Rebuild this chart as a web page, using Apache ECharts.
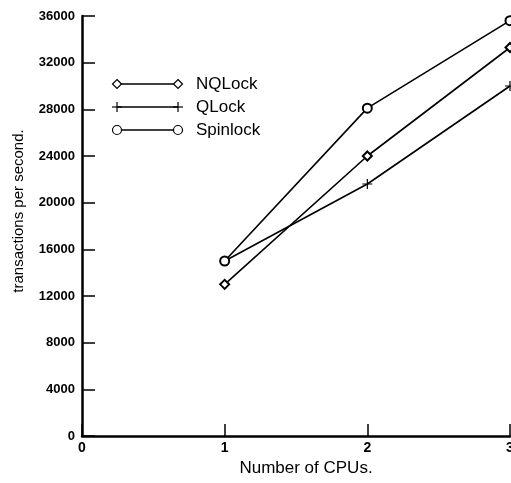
<!DOCTYPE html>
<html>
<head>
<meta charset="utf-8">
<script src="https://cdn.jsdelivr.net/npm/echarts@6/dist/echarts.min.js"></script>
<style>
  html, body { margin: 0; padding: 0; background: #fff; }
  #chart { width: 511px; height: 483px; }
</style>
</head>
<body>
<div id="chart"></div>
<script>
// values
const cpus = [1, 2, 3]
const nqlock = [13000, 24000, 33300]
const qlock = [15000, 21600, 30000]
const spinlock = [15000, 28100, 35600]
const seriesNames = ['NQLock', 'QLock', 'Spinlock']

const font = 'Liberation Sans, Arial, Helvetica, sans-serif'
const plusPath = 'path://M0,5L10,5M5,0L5,10'

const pairs = vals => cpus.map((c, i) => [c, vals[i]])

const lineSeries = (name, vals, symbol, size) => ({
  name,
  type: 'line',
  data: pairs(vals),
  symbol,
  symbolSize: size,
  showAllSymbol: true,
  clip: false,
  lineStyle: { color: '#000', width: 1.6 },
  itemStyle: { color: '#000', borderColor: '#000', borderWidth: 1.2 },
  emphasis: { disabled: true },
  animation: false
})

// legend drawn by hand: marker — line — marker, then label
const legendRow = (y, kind, label) => {
  const mk = x => {
    if (kind === 'diamond') {
      return { type: 'polygon', shape: { points: [[x, y - 4.5], [x + 4.5, y], [x, y + 4.5], [x - 4.5, y]] },
        style: { fill: '#fff', stroke: '#000', lineWidth: 1.2 } }
    }
    if (kind === 'circle') {
      return { type: 'circle', shape: { cx: x, cy: y, r: 4.5 }, style: { fill: '#fff', stroke: '#000', lineWidth: 1.2 } }
    }
    return { type: 'group', children: [
      { type: 'line', shape: { x1: x - 5, y1: y, x2: x + 5, y2: y }, style: { stroke: '#000', lineWidth: 1.2 } },
      { type: 'line', shape: { x1: x, y1: y - 5, x2: x, y2: y + 5 }, style: { stroke: '#000', lineWidth: 1.2 } }
    ] }
  }
  return { type: 'group', children: [
    { type: 'line', shape: { x1: 117, y1: y, x2: 178, y2: y }, style: { stroke: '#000', lineWidth: 1.6 } },
    mk(117), mk(178),
    { type: 'text', x: 196, y: y, style: { text: label, fill: '#000', font: '17px ' + font, verticalAlign: 'middle' } }
  ] }
}

const chart = echarts.init(document.getElementById('chart'))
chart.setOption({
  backgroundColor: '#fff',
  animation: false,
  grid: { left: 82, right: 1, top: 16, bottom: 47, containLabel: false, outerBoundsMode: 'none' },
  xAxis: {
    type: 'value', min: 0, max: 3, interval: 1,
    name: 'Number of CPUs.', nameLocation: 'middle', nameGap: 22,
    nameTextStyle: { color: '#000', fontSize: 17, fontFamily: font, padding: [0, 0, 0, 20] },
    axisLine: { lineStyle: { color: '#000', width: 2.5 } },
    axisTick: { inside: true, length: 12, lineStyle: { color: '#000', width: 1.5 } },
    axisLabel: { color: '#000', fontSize: 14, fontWeight: 'bold', fontFamily: font, margin: 5 },
    splitLine: { show: false }
  },
  yAxis: {
    type: 'value', min: 0, max: 36000, interval: 4000,
    name: 'transactions per second.', nameLocation: 'middle', nameGap: 56,
    nameTextStyle: { color: '#000', fontSize: 15, fontFamily: font, padding: [0, 0, 0, 30] },
    axisLine: { lineStyle: { color: '#000', width: 2.5 } },
    axisTick: { inside: true, length: 13, lineStyle: { color: '#000', width: 1.5 } },
    axisLabel: { color: '#000', fontSize: 13, fontWeight: 'bold', fontFamily: font, margin: 7, formatter: v => String(v) },
    splitLine: { show: false }
  },
  series: [
    lineSeries(seriesNames[0], nqlock, 'emptyDiamond', 9),
    lineSeries(seriesNames[1], qlock, plusPath, 10),
    lineSeries(seriesNames[2], spinlock, 'emptyCircle', 9)
  ],
  graphic: [
    legendRow(84, 'diamond', seriesNames[0]),
    legendRow(107, 'plus', seriesNames[1]),
    legendRow(130, 'circle', seriesNames[2])
  ]
})
</script>
</body>
</html>
